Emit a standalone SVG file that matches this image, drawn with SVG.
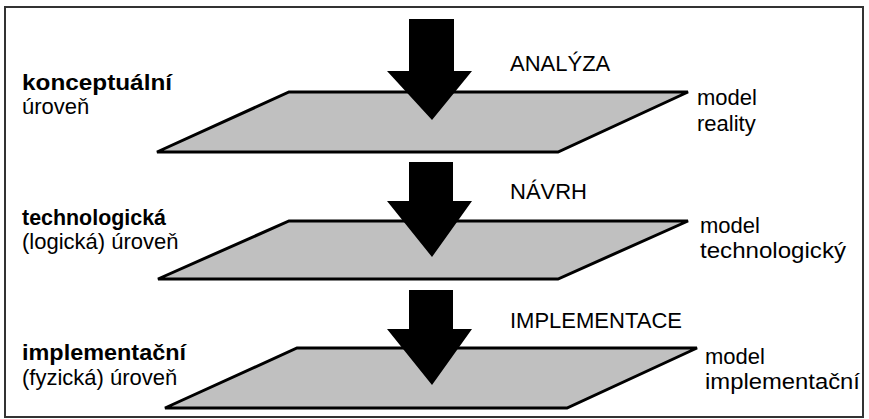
<svg xmlns="http://www.w3.org/2000/svg" width="869" height="419" viewBox="0 0 869 419">
<style>
.plane{fill:#c0c0c0;stroke:#000;stroke-width:3;stroke-linejoin:miter}
.arrow{fill:#000}
text{font-family:"Liberation Sans",Arial,sans-serif;font-size:22px;fill:#000}
.b{font-weight:bold}
</style>
<rect x="5" y="7" width="858" height="410" fill="#fff" stroke="#333" stroke-width="2"/>
<g id="level1">
<polygon class="plane" points="289,92 688,92 558,152 157,152"/>
<text class="b" x="22" y="90" textLength="150" lengthAdjust="spacingAndGlyphs">konceptuální</text>
<text x="22" y="114">úroveň</text>
<text x="697" y="105">model</text>
<text x="697" y="131">reality</text>
</g>
<g id="level2">
<polygon class="plane" points="289,221 688,221 558,279 158,279"/>
<text class="b" x="22" y="225" textLength="144" lengthAdjust="spacingAndGlyphs">technologická</text>
<text x="22" y="249">(logická) úroveň</text>
<text x="700" y="233">model</text>
<text x="700" y="258" textLength="146" lengthAdjust="spacingAndGlyphs">technologický</text>
</g>
<g id="level3">
<polygon class="plane" points="297,348 697,348 567,408 165,408"/>
<text class="b" x="22" y="360" textLength="164" lengthAdjust="spacingAndGlyphs">implementační</text>
<text x="22" y="385">(fyzická) úroveň</text>
<text x="705" y="364">model</text>
<text x="705" y="389" textLength="155" lengthAdjust="spacingAndGlyphs">implementační</text>
</g>
<g id="connectors">
<polygon class="arrow" points="409,19 454,19 454,71 472,71 432,120 387,71 409,71"/>
<text x="510" y="71">ANALÝZA</text>
<polygon class="arrow" points="409,162 453,162 453,201 472,201 432,257 387,201 409,201"/>
<text x="510" y="199">NÁVRH</text>
<polygon class="arrow" points="409,290 453,290 453,329 472,329 432,385 387,329 409,329"/>
<text x="510" y="328">IMPLEMENTACE</text>
</g>
</svg>
